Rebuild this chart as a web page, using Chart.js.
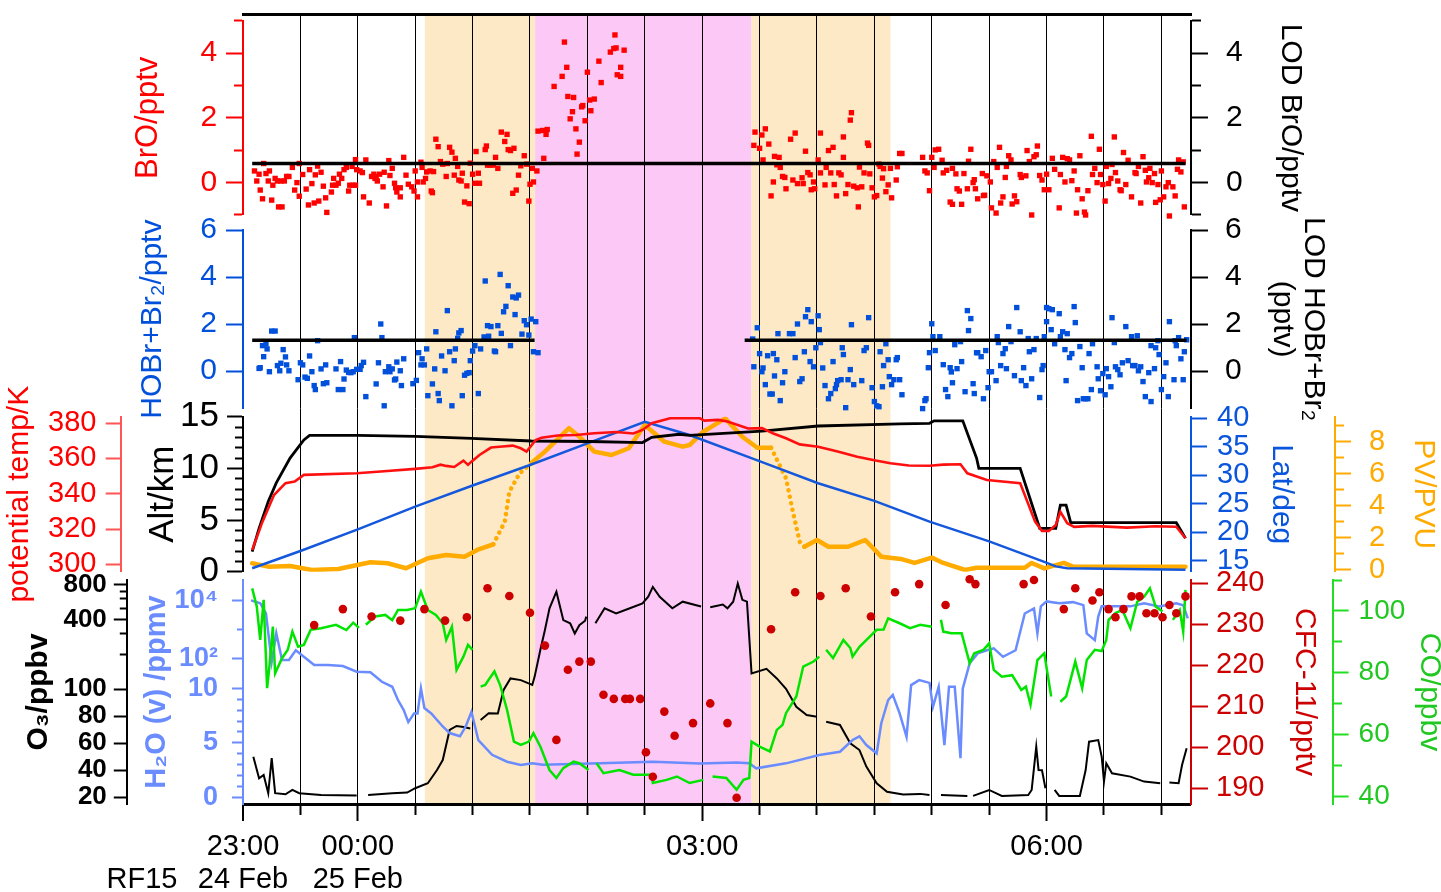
<!DOCTYPE html>
<html lang="en">
<head>
<meta charset="utf-8">
<title>RF15 bromine, ozone and tracer time series</title>
<script src="https://cdn.jsdelivr.net/npm/chart.js@4.4.1/dist/chart.umd.min.js"></script>
<style>
  body { margin: 0; background: #fff; }
  #stack { position: relative; width: 1441px; height: 892px; }
  #stack canvas { position: absolute; left: 0; top: 0; }
</style>
</head>
<body>
<div id="stack">
  <canvas id="frame" width="1441" height="892"></canvas>
  <canvas id="bro" width="1441" height="892"></canvas>
  <canvas id="hobr" width="1441" height="892"></canvas>
  <canvas id="met" width="1441" height="892"></canvas>
  <canvas id="tracers" width="1441" height="892"></canvas>
</div>
<script>
// time is in hours after 23:00 UTC, 24 Feb
const T_END = 8.258;

// flight legs shaded behind all panels
const legStart = [1.584, 2.545, 4.43];
const legEnd = [2.545, 4.43, 5.64];
const legFill = ['#fde9c6', '#fcc8f5', '#fde9c6'];

const timeTicks = [0, 0.5, 1, 1.5, 2, 2.5, 3, 3.5, 4, 4.5, 5, 5.5, 6, 6.5, 7, 7.5, 8];
const clockHours = [0, 1, 4, 7];
const clockText = ['23:00', '00:00', '03:00', '06:00'];
const dateText = ['24 Feb', '25 Feb', '', ''];

// axis ticks
const broTicks = [-1, 0, 1, 2, 3, 4, 5];
const broLabelled = [0, 2, 4];
const hobrTicks = [0, 2, 4, 6];
const thetaTicks = [300, 320, 340, 360, 380];
const altTicks = [0, 1, 2, 3, 4, 5, 6, 7, 8, 9, 10, 11, 12, 13, 14, 15];
const altLabelled = [0, 5, 10, 15];
const latTicks = [15, 20, 25, 30, 35, 40];
const pvTicks = [0, 1, 2, 3, 4, 5, 6, 7, 8, 9];
const pvLabelled = [0, 2, 4, 6, 8];
const o3Ticks = [20, 40, 60, 80, 100, 200, 300, 400, 500, 600, 700, 800];
const o3Labelled = [20, 40, 60, 80, 100, 400, 800];
const h2oTicks = [0, 1, 2, 3, 4, 5, 6, 7, 8, 9, 10, 100, 1000, 10000];
const h2oLabelled = [0, 5, 10, 100, 10000];
const h2oText = ['0', '5', '10', '10\u00b2', '10\u2074'];
const cfcTicks = [190, 200, 210, 220, 230, 240];
const coTicks = [40, 50, 60, 70, 80, 90, 100, 110];
const coLabelled = [40, 60, 80, 100];

// BrO (pptv)
const broTime = [
  0.10,0.12,0.14,0.15,0.17,0.18,0.20,0.22,0.23,0.25,
  0.26,0.28,0.30,0.31,0.34,0.33,0.36,0.38,0.40,0.43,
  0.45,0.47,0.49,0.49,0.52,0.55,0.57,0.58,0.60,0.62,
  0.63,0.65,0.66,0.68,0.70,0.72,0.73,0.77,0.78,0.79,
  0.81,0.83,0.84,0.86,0.88,0.90,0.92,0.93,0.95,0.96,
  0.98,0.98,0.99,1.02,1.04,1.05,1.07,1.10,1.12,1.14,
  1.15,1.16,1.17,1.19,1.22,1.23,1.25,1.27,1.28,1.30,
  1.32,1.33,1.34,1.37,1.37,1.40,1.42,1.44,1.47,1.49,
  1.50,1.52,1.52,1.55,1.56,1.57,1.59,1.60,1.63,1.64,
  1.65,1.66,1.68,1.70,1.72,1.74,1.77,1.78,1.80,1.82,
  1.84,1.85,1.87,1.88,1.90,1.91,1.93,1.95,1.97,1.98,
  2.00,2.02,2.03,2.05,2.06,2.11,2.12,2.13,2.15,2.18,
  2.20,2.22,2.25,2.28,2.30,2.31,2.33,2.35,2.36,2.38,
  2.40,2.42,2.45,2.47,2.49,2.50,2.52,2.53,2.56,2.57,
  2.61,2.62,2.64,2.65,2.71,
  2.78,2.80,2.82,2.83,2.85,2.87,2.88,2.90,2.91,2.93,
  2.95,2.96,2.98,3.00,3.02,3.03,3.06,3.10,3.12,3.20,
  3.23,3.24,3.25,3.26,3.29,3.29,3.32,
  4.45,4.46,4.50,4.52,4.53,4.55,4.58,4.60,4.62,4.63,
  4.65,4.67,4.68,4.70,4.72,4.73,4.77,4.79,4.81,4.83,
  4.87,4.88,4.90,4.92,4.94,4.95,4.97,4.98,5.01,5.03,
  5.03,5.07,5.08,5.10,5.12,5.14,5.15,5.17,5.19,5.21,
  5.23,5.23,5.25,5.27,5.29,5.30,5.32,5.35,5.36,5.37,
  5.39,5.41,5.44,5.45,5.46,5.48,5.50,5.52,5.54,5.55,
  5.57,5.58,5.60,5.62,5.64,5.65,5.69,5.70,5.72,5.74,
  5.92,5.94,5.96,5.98,6.00,6.02,6.03,6.06,6.09,6.10,
  6.13,6.16,6.18,6.18,6.21,6.22,6.24,6.26,6.28,6.31,
  6.32,6.34,6.36,6.37,6.38,6.40,6.44,6.45,6.46,6.48,
  6.51,6.52,6.54,6.56,6.57,6.59,6.60,6.62,6.64,6.65,
  6.67,6.69,6.70,6.72,6.74,6.77,6.78,6.82,6.83,6.85,
  6.87,6.89,6.91,6.92,6.94,6.96,6.98,7.00,7.02,7.05,
  7.07,7.11,7.12,7.14,7.16,7.18,7.20,7.22,7.24,7.26,
  7.27,7.29,7.31,7.33,7.34,7.36,7.39,7.40,7.42,7.44,
  7.46,7.47,7.49,7.51,7.52,7.54,7.56,7.57,7.59,7.60,
  7.62,7.64,7.65,7.67,7.69,7.71,7.74,7.77,7.78,7.80,
  7.82,7.84,7.86,7.87,7.89,7.90,7.92,7.94,7.95,7.97,
  7.99,8.00,8.02,8.04,8.06,8.07,8.10,8.12,8.14,8.15,
  8.17,8.19,8.20
];
const broVal = [
  0.36,0.05,0.26,-0.23,-0.50,0.59,0.28,0.05,0.36,-0.54,
  -0.08,0.13,0.05,-0.75,-0.75,0.05,0.05,0.19,0.19,0.47,
  -0.23,0.00,-0.42,0.59,0.25,-0.20,-0.69,0.40,-0.03,-0.63,
  0.24,0.51,-0.57,0.32,-0.11,-0.47,-0.92,-0.29,-0.08,0.13,
  -0.08,-0.02,0.26,0.13,0.40,0.47,-0.26,-0.08,0.50,-0.08,
  -0.08,0.71,0.40,0.36,0.31,-0.44,0.70,-0.63,0.19,0.26,
  0.13,0.19,0.05,0.26,-0.13,0.32,-0.72,0.68,0.22,0.44,
  -0.02,-0.16,-0.29,-0.44,-0.16,0.78,0.23,-0.05,-0.13,-0.26,
  0.36,-0.44,0.02,0.63,0.47,0.02,0.13,0.33,0.36,-0.26,
  -0.31,0.34,1.34,1.11,0.65,0.57,0.19,0.59,1.09,0.94,
  0.23,0.75,0.50,0.08,0.05,0.29,-0.60,-0.10,-0.65,0.60,
  0.26,-0.02,0.96,0.29,-0.02,1.02,1.13,0.54,0.54,0.54,
  0.78,0.44,1.56,1.27,1.49,1.02,0.99,-0.33,1.06,-0.23,
  0.23,0.52,0.83,0.57,-0.57,-0.05,0.44,0.02,0.36,1.59,
  1.61,0.75,1.49,1.64,2.97,
  3.28,4.34,3.56,2.66,1.97,2.19,2.63,1.66,0.88,1.25,
  2.34,2.38,1.91,3.41,2.55,2.22,2.58,3.75,3.09,4.03,
  4.14,4.56,4.16,3.33,3.28,3.56,4.09,
  1.15,1.56,1.06,1.47,0.70,1.66,1.19,-0.41,0.02,0.81,
  0.55,0.78,0.47,0.19,0.16,-0.19,1.34,0.08,1.53,-0.03,
  0.15,-0.03,0.97,0.31,0.24,-0.22,0.02,-0.19,0.70,1.53,
  0.30,-0.07,0.47,0.99,0.30,1.09,-0.06,-0.41,0.30,0.24,
  1.41,0.78,-0.34,-0.06,1.93,2.16,-0.11,-0.16,-0.75,0.48,
  -0.13,0.30,1.22,1.15,0.27,-0.16,-0.44,-0.40,0.57,0.50,
  0.14,0.43,-0.28,-0.07,0.44,-0.47,0.08,0.49,0.90,0.90,
  0.78,0.36,0.30,-0.25,0.78,0.47,1.01,1.03,0.69,0.30,
  0.38,-0.60,-0.67,0.44,0.27,-0.19,-0.26,-0.67,0.28,-0.19,
  0.66,1.03,0.00,0.09,-0.19,-0.50,0.28,-0.40,-0.39,0.21,
  0.02,-0.78,0.65,-0.94,0.47,1.09,-0.63,-0.44,0.16,0.50,
  0.83,0.70,-0.66,-0.41,-0.59,0.25,0.16,0.21,0.99,0.65,
  -1.00,0.80,0.86,1.13,0.22,0.08,-0.22,0.26,-0.22,0.75,
  0.41,-0.78,0.25,0.78,0.02,0.74,0.70,0.06,0.36,-0.94,
  -0.22,0.83,-0.50,-0.91,-1.00,-0.25,1.43,0.25,0.44,0.00,
  1.03,0.25,-0.06,-0.57,0.50,-0.03,0.13,0.56,1.41,0.31,
  0.05,-0.22,-0.25,0.93,-0.06,0.69,-0.44,0.31,0.28,0.50,
  -0.63,0.80,0.38,0.02,0.15,0.44,0.00,0.28,-0.61,-0.06,
  -0.53,0.36,-0.44,-0.13,0.00,-1.03,-0.13,-0.41,0.41,0.70,
  0.33,0.64,-0.75
];
const lodBroTime = [0.08, 8.21];
const lodBroVal = [0.59, 0.59];

// HOBr + Br2 (pptv)
const hobrTime = [
  0.14,0.15,0.17,0.18,0.20,0.21,0.23,0.25,0.28,0.30,
  0.32,0.33,0.35,0.37,0.38,0.40,0.48,0.50,0.52,0.54,
  0.56,0.58,0.60,0.62,0.63,0.65,0.68,0.70,0.72,0.73,
  0.81,0.83,0.85,0.87,0.88,0.90,0.92,0.94,0.96,0.97,
  0.99,1.02,1.03,1.05,1.07,1.16,1.18,1.20,1.21,1.23,
  1.24,1.27,1.28,1.30,1.32,1.33,1.34,1.37,1.38,1.40,
  1.48,1.51,1.53,1.55,1.56,1.58,1.60,1.61,1.65,1.67,
  1.68,1.70,1.71,1.73,1.76,1.78,1.80,1.82,1.84,1.85,
  1.87,1.88,1.90,1.91,1.93,1.95,1.97,1.98,2.00,2.02,
  2.05,2.07,2.10,2.11,2.13,2.14,2.16,2.19,2.20,2.22,
  2.24,2.25,2.27,2.29,2.31,2.33,2.35,2.37,2.38,2.40,
  2.43,2.45,2.47,2.49,2.51,2.53,2.55,2.57,
  4.44,4.45,4.48,4.50,4.52,4.53,4.55,4.57,4.59,4.61,
  4.62,4.63,4.65,4.66,4.68,4.70,4.72,4.76,4.79,4.81,
  4.83,4.85,4.87,4.89,4.90,4.92,4.94,4.95,4.97,4.99,
  5.01,5.02,5.03,5.05,5.07,5.10,5.12,5.14,5.16,5.17,
  5.18,5.21,5.22,5.23,5.25,5.27,5.29,5.30,5.32,5.39,
  5.41,5.43,5.45,5.48,5.50,5.52,5.54,5.55,5.57,5.58,
  5.60,5.62,5.63,5.65,5.67,5.69,5.70,5.72,5.74,5.92,
  5.94,5.95,5.97,5.98,6.00,6.01,6.03,6.07,6.10,6.12,
  6.14,6.16,6.17,6.18,6.20,6.22,6.25,6.26,6.29,6.31,
  6.32,6.34,6.36,6.37,6.39,6.40,6.43,6.45,6.47,6.49,
  6.50,6.52,6.56,6.57,6.58,6.60,6.62,6.64,6.65,6.67,
  6.69,6.72,6.74,6.77,6.78,6.80,6.82,6.84,6.85,6.87,
  6.89,6.91,6.94,6.96,6.97,6.98,7.00,7.00,7.02,7.04,
  7.05,7.07,7.11,7.12,7.14,7.16,7.17,7.18,7.20,7.22,
  7.24,7.25,7.27,7.29,7.31,7.32,7.34,7.36,7.37,7.39,
  7.40,7.44,7.45,7.47,7.49,7.51,7.52,7.54,7.56,7.57,
  7.59,7.60,7.62,7.64,7.66,7.69,7.71,7.74,7.75,7.77,
  7.79,7.80,7.82,7.84,7.86,7.89,7.91,7.91,7.94,7.95,
  7.97,7.98,8.00,8.02,8.04,8.06,8.07,8.11,8.12,8.13,
  8.15,8.17,8.19,8.20,8.22
];
const hobrVal = [
  0.11,0.14,1.08,0.61,1.15,0.94,-0.03,1.70,1.70,0.23,
  0.01,0.33,0.91,0.60,0.26,0.01,-0.37,0.35,0.26,-0.26,
  -0.31,0.64,-0.03,-0.62,-0.79,1.29,0.09,-0.54,0.26,-0.50,
  0.09,-0.79,0.40,-0.79,-0.34,0.04,-0.06,-0.07,-0.03,1.42,
  0.07,0.07,0.23,0.37,-1.09,-0.55,0.35,2.00,1.42,-1.48,
  -0.03,0.18,-0.03,0.09,-0.38,-0.34,0.38,0.01,-0.62,0.52,
  -0.54,-0.40,0.78,0.26,0.52,0.26,0.94,-1.05,-0.55,0.09,
  1.67,-0.96,-1.26,0.64,0.01,2.57,0.82,-1.48,0.44,0.94,
  1.39,1.62,1.72,-1.05,-0.18,-0.10,-0.07,0.44,0.85,1.08,
  -0.96,0.94,1.45,3.83,1.93,1.48,1.89,0.85,0.82,1.93,
  4.11,1.60,2.52,2.75,3.63,1.08,3.15,2.40,3.11,3.23,
  1.57,2.14,1.97,1.53,2.21,0.82,2.10,0.78,
  1.36,0.18,1.84,0.74,-0.03,0.13,-0.58,0.65,-0.98,-0.98,
  0.74,-0.21,0.48,1.59,-1.26,-0.50,-0.03,1.59,1.59,0.57,
  2.00,-0.45,-0.33,0.82,2.31,2.61,0.40,2.10,0.18,0.99,
  2.35,1.76,1.21,0.13,-0.62,-1.18,-0.96,0.40,-0.75,-0.58,
  -0.41,-0.37,0.99,0.70,-1.56,-0.37,0.06,1.97,-0.58,-0.41,
  0.87,0.99,2.27,-0.71,-1.30,-1.48,-1.52,0.82,-0.67,0.23,
  1.16,0.48,-0.24,-0.58,-0.37,0.48,0.57,-0.37,-1.01,-1.60,
  -1.26,-1.18,0.14,0.78,2.01,1.46,0.87,1.46,0.27,-0.79,
  -1.09,0.14,-0.04,-0.50,1.12,0.10,1.25,0.40,-0.88,2.57,
  1.72,2.23,-0.54,-0.96,0.78,0.78,0.61,-1.18,0.87,-0.71,
  -0.03,-0.03,-0.41,1.46,1.21,0.23,0.74,0.95,0.10,1.89,
  1.25,-0.20,2.70,1.67,-0.41,0.14,-0.62,1.38,0.82,-0.33,
  0.91,1.38,-1.13,0.06,0.23,1.46,2.10,2.70,2.65,1.76,
  2.61,1.16,2.44,1.46,1.67,0.91,-0.41,1.59,0.57,0.74,
  2.74,2.06,-1.26,1.04,0.14,-1.18,-1.18,-1.18,0.74,-0.79,
  1.16,0.18,-0.33,-0.84,-0.11,-1.01,0.10,-0.24,-0.67,2.27,
  1.21,0.18,0.06,-0.16,0.35,1.89,0.44,1.46,0.23,0.23,
  1.50,0.01,0.18,-0.45,-1.09,-0.07,-1.30,1.08,0.10,0.99,
  1.29,0.70,-0.79,-0.24,0.35,-1.09,2.10,-0.37,1.29,1.08,
  1.42,0.52,-0.37,0.82,1.33
];
const lodHobrTime = [0.08, 2.54, 3.5, 4.37, 8.22];
const lodHobrVal = [1.31, 1.31, null, 1.31, 1.31];

// aircraft state
const altTime = [0.08,0.14,0.22,0.29,0.41,0.53,0.58,1.00,1.50,1.99,2.51,3.02,3.48,3.56,3.80,3.89,4.52,5.01,5.72,5.98,6.02,6.27,6.39,6.41,6.77,6.94,7.08,7.12,7.17,7.21,8.13,8.21];
const altKm = [1.94,4.2,6.8,8.6,11.0,12.75,13.2,13.2,13.1,12.9,12.65,12.6,12.5,13.0,13.3,13.2,13.6,14.1,14.3,14.36,14.6,14.6,11.0,10.0,10.0,4.2,4.2,6.45,6.45,4.74,4.74,3.23];
const thetaTime = [0.08,0.17,0.27,0.37,0.45,0.53,0.99,1.20,1.50,1.65,
  1.72,1.77,1.84,1.92,1.96,1.99,2.06,2.16,2.26,2.35,
  2.42,2.47,2.55,2.60,2.74,2.90,3.06,3.25,3.40,3.48,
  3.56,3.72,3.98,4.02,4.14,4.22,4.31,4.40,4.52,4.62,
  4.73,4.85,5.01,5.18,5.35,5.50,5.64,5.80,5.98,6.10,
  6.25,6.31,6.48,6.77,6.90,6.96,7.02,7.08,7.12,7.18,
  7.24,7.40,7.70,7.95,8.13,8.21];
const thetaK = [308.1,324.2,339.3,346.0,346.9,350.7,351.6,352.6,354.1,355.0,
  356.5,355.8,355.2,358.8,356.4,358.2,362.0,366.2,366.8,367.3,
  365.8,363.9,370.5,371.8,373.0,373.3,374.3,375.0,374.2,376.2,
  380.0,382.8,382.8,381.5,381.9,381.0,379.0,377.0,377.2,374.2,
  371.5,368.0,366.7,364.0,361.0,359.0,357.3,356.0,355.9,356.5,
  356.7,351.6,347.8,346.0,324.2,318.9,318.9,322.3,329.8,323.3,
  321.2,321.8,320.8,321.6,321.3,314.8];
const latTime = [0.08,0.50,1.00,1.50,2.00,2.50,3.00,3.50,3.89,4.51,5.01,5.50,5.98,6.50,6.98,7.08,7.18,8.21];
const latDeg = [13.67,16.7,20.5,24.5,28.2,31.8,35.6,39.4,37.07,32.4,28.6,25.5,21.85,18.4,14.8,14.0,13.67,13.4];
const pvTime = [0.08,0.22,0.41,0.60,0.83,1.11,1.26,1.42,1.61,1.77,1.93,2.04,2.18,2.28,2.32,2.41,2.51,2.63,2.84,2.93,3.06,3.21,3.36,3.50,3.67,3.83,3.89,4.01,4.20,4.35,4.48,4.60,4.73,4.79,4.85,4.89,5.00,5.10,5.27,5.42,5.56,5.73,5.85,6.00,6.10,6.29,6.39,6.81,6.87,6.98,7.15,7.23,8.21];
const pvVal = [0.42,0.21,0.25,0.0,0.06,0.48,0.42,0.11,0.73,0.94,0.83,1.25,1.6,3.0,4.88,6.03,6.65,7.38,8.84,8.31,7.38,7.17,7.59,9.04,8.0,7.69,7.79,8.62,9.45,8.31,7.62,7.62,5.72,3.63,1.76,1.45,1.87,1.45,1.45,1.87,0.83,0.69,0.44,0.77,0.44,0.0,0.14,0.14,0.44,0.1,0.44,0.21,0.21];
// stretches of PV that are interpolated between model outputs (drawn dotted)
const pvDotFrom = [2.18, 4.60];
const pvDotTo = [2.51, 4.89];

// trace gases
const o3Time = [0.09,0.14,0.18,0.22,0.25,0.28,0.37,0.43,0.49,0.68,
  0.99,1.03,1.09,1.30,1.43,1.50,1.61,1.69,1.74,1.80,
  1.86,1.92,1.98,2.02,2.07,2.14,2.22,2.27,2.33,2.42,
  2.52,2.54,2.59,2.63,2.67,2.73,2.79,2.85,2.89,2.93,
  2.98,2.99,3.03,3.07,3.15,3.25,3.37,3.48,3.53,3.57,
  3.63,3.74,3.83,3.99,4.03,4.07,4.18,4.22,4.27,4.31,
  4.35,4.39,4.43,4.56,4.65,4.73,4.82,4.91,5.00,5.03,
  5.08,5.20,5.29,5.37,5.43,5.52,5.61,5.75,5.90,5.98,
  6.02,6.08,6.31,6.33,6.36,6.50,6.61,6.84,6.87,6.91,
  6.93,6.96,6.99,7.03,7.07,7.11,7.29,7.34,7.37,7.45,
  7.48,7.50,7.52,7.57,7.73,7.85,7.99,8.03,8.07,8.15,
  8.18,8.22];
const o3Val = [50,34,36.5,23,49,23,22.2,25.4,23,21.7,
  21.3,null,21.7,23,23.5,26.7,30.4,40.2,47.6,69.9,
  72.8,72,71,null,77.3,82.2,82,99.5,124,120,
  109,128,218,324,499,694,395,371,303,357,
  390,423,null,371,499,451,499,550,627,763,
  627,499,569,517,null,510,537,499,569,815,
  590,569,137,150,124,101,87,81,79.7,null,
  76,73.6,60,55,42.7,30.4,24.1,22,22.5,21.7,
  null,21.7,21,null,21,25.4,21,21.7,25.4,57.5,
  40.2,40,26.7,null,25.4,21,21,40,61.2,62.4,
  50,31.6,45.2,37.8,35.3,31.6,30.4,null,31,30.4,
  43.9,56.3];
const h2oTime = [0.07,0.15,0.20,0.25,0.29,0.34,0.40,0.46,0.53,0.62,
  0.74,0.87,0.99,1.11,1.21,1.30,1.35,1.40,1.44,1.49,
  1.52,1.55,1.58,1.64,1.74,1.80,1.89,1.94,1.99,2.05,
  2.17,2.30,2.42,2.52,2.61,3.11,3.57,3.98,4.30,4.41,
  4.47,4.73,5.02,5.20,5.31,5.37,5.43,5.52,5.56,5.62,
  5.66,5.72,5.78,5.82,5.89,5.98,6.01,6.06,6.11,6.15,
  6.20,6.25,6.27,6.33,6.40,6.48,6.54,6.62,6.73,6.81,
  6.89,6.92,6.95,7.00,7.11,7.23,7.32,7.35,7.42,7.45,
  7.48,7.73,7.85,7.98,8.13,8.19,8.23];
const h2oVal = [9770,7800,3500,80,740,92,92,197,118,62,
  62,57,36.6,35,16.7,11.3,8.93,8.0,6.9,7.7,
  7.7,10,8.2,7.7,6.5,5.9,5.6,6.5,7.85,5.26,
  3.9,3.27,2.96,3.12,3.0,3.12,3.27,3.1,3.2,3.12,
  2.66,3.12,3.88,4.18,5.26,5.6,4.8,4.04,6.8,8.93,
  9.4,7.7,5.56,12.9,19,15.3,8.3,11.3,4.8,11.3,
  11.3,3.6,10,71,154,197,229,118,197,3500,
  5200,740,6100,9000,7800,8500,6700,740,436,2740,
  6100,6100,7800,6100,7800,6700,2400];
const coTime = [0.08,0.12,0.15,0.18,0.21,0.23,0.26,0.28,0.34,0.39,
  0.43,0.48,0.53,0.59,0.68,0.81,0.90,0.96,1.01,1.04,
  1.07,1.15,1.24,1.30,1.35,1.43,1.50,1.55,1.61,1.68,
  1.74,1.77,1.82,1.86,1.92,1.96,2.00,2.04,2.07,2.11,
  2.14,2.19,2.24,2.30,2.36,2.42,2.49,2.53,2.59,2.67,
  2.73,2.79,2.88,2.93,3.01,3.04,3.08,3.14,3.28,3.40,
  3.56,3.57,3.69,3.78,3.89,4.01,4.04,4.09,4.21,4.30,
  4.36,4.41,4.43,4.50,4.59,4.65,4.70,4.73,4.82,4.88,
  4.97,5.02,5.06,5.08,5.14,5.23,5.29,5.31,5.37,5.46,
  5.52,5.58,5.62,5.72,5.81,5.90,6.00,6.03,6.08,6.10,
  6.17,6.26,6.33,6.37,6.45,6.50,6.54,6.61,6.70,6.78,
  6.82,6.86,6.92,6.98,7.04,7.08,7.12,7.17,7.25,7.31,
  7.35,7.42,7.48,7.52,7.54,7.60,7.66,7.73,7.79,7.85,
  7.90,7.95,8.01,8.04,8.10,8.16,8.19,8.21];
const coVal = [107.3,101.4,90.6,103.6,75,82,94.9,79.8,84.7,87.4,
  93.3,88.4,89,93.9,94.4,95.5,93.8,96.2,94.5,null,
  95.5,98.2,98.7,97,100.3,100.3,100.9,106.2,100.3,98.7,
  96,90.6,94.9,80.9,85.2,89,87.4,null,75.5,76,
  77.7,80.4,76,68,57.7,56.6,57.7,60.4,56.1,48.5,
  45.9,49.1,51.2,50.7,48.5,null,50.7,47.5,48.5,47,
  47,44.3,45.3,46.4,44.3,45.3,null,46.4,45.9,42.1,
  45.3,45.9,57.7,56.1,54.5,61.5,63.1,66.9,72.3,82,
  83.6,85.2,null,87.4,84.7,90.6,88,85.2,88.4,91.7,
  93.9,94,97.6,96,94.4,95.5,94.9,null,97.1,93.3,
  92.8,92.8,83.1,86.3,87.4,89.5,80.9,78.7,79.2,74.4,
  75.5,69.6,84.1,86.3,72.3,null,70.6,72.3,83.6,75,
  84.1,87.4,87,90.6,97.1,99.3,100.3,94.4,103,104.6,
  107.3,101.4,99.8,null,97.1,100.3,93.3,106.8];
const cfcTime = [0.62,0.87,1.12,1.37,1.58,1.76,1.95,2.13,2.32,2.50,
  2.63,2.73,2.83,2.93,3.03,3.14,3.23,3.33,3.37,3.46,
  3.51,3.57,3.67,3.76,3.92,4.07,4.22,4.30,4.60,4.81,
  5.03,5.25,5.47,5.68,5.89,6.12,6.33,6.38,6.80,6.89,
  7.15,7.25,7.40,7.46,7.54,7.60,7.67,7.74,7.81,7.87,
  7.94,8.01,8.07,8.13,8.21];
const cfcVal = [229.8,233.7,231.9,230.9,233.7,230.9,231.7,238.8,236.9,232.8,
  224.8,201.8,218.9,220.9,220.9,212.8,211.8,211.8,211.8,211.8,
  198.8,192.8,208.7,202.8,205.9,210.7,205.9,187.7,228.8,237.8,
  236.9,238.8,231.9,237.8,239.8,234.7,241,239.8,239.8,240.8,
  233.7,238.8,235.8,237.8,233.7,231.7,233.7,236.8,236.8,232.7,
  232.7,231.7,234.7,232.7,236.8];

const FONT = "'Liberation Sans', Arial, Helvetica, sans-serif";
Chart.defaults.font.family = FONT;

// linear below breakAt, logarithmic above it (used for O3 and H2O)
class BrokenLogScale extends Chart.LinearScale {
  static id = 'brokenLog';
  static defaults = Chart.LinearScale.defaults;

  linearise(v) {
    const b = this.options.breakAt;
    const k = this.options.unitsPerDecade;
    return v <= b ? v : b + k * Math.log10(v / b);
  }

  getPixelForValue(v) {
    if (v === null || v === undefined) return NaN;
    return super.getPixelForValue(this.linearise(v));
  }
}
Chart.register(BrokenLogScale);

function series(t, v) {
  return t.map((x, i) => ({ x: x, y: v[i] }));
}

// one y axis with a fixed box width so every panel shares the same plot edges
function axis(o) {
  const labelled = o.labelled || o.ticks;
  const minor = o.minorLen || 0;
  const left = o.side === 'left';
  return {
    type: o.type || 'linear',
    position: o.side,
    weight: o.outer ? 1 : 0,
    min: o.min,
    max: o.max,
    breakAt: o.breakAt,
    unitsPerDecade: o.perDecade,
    border: { display: true, color: o.lineColor || o.color, width: 2 },
    grid: {
      display: true,
      drawOnChartArea: false,
      drawTicks: true,
      tickLength: o.tickLen,
      tickWidth: 2,
      tickColor: o.lineColor || o.color,
      tickBorderDash: c => (c.tick && labelled.indexOf(c.tick.value) < 0)
        ? (left ? [0, o.tickLen - minor, minor, 300] : [minor, 300])
        : []
    },
    ticks: {
      autoSkip: false,
      padding: o.pad,
      color: o.color,
      font: { family: FONT, size: o.size, weight: o.bold ? 'bold' : 'normal' },
      callback: v => {
        const i = labelled.indexOf(v);
        if (i < 0) return '';
        return o.text ? o.text[i] : String(v);
      }
    },
    afterBuildTicks: s => { s.ticks = o.ticks.map(v => ({ value: v })); },
    afterFit: s => {
      // keep the panel edges where the layout padding puts them
      s.width = o.width;
      s.paddingTop = 0;
      s.paddingBottom = 0;
    },
    title: {
      display: true,
      text: o.title,
      color: o.color,
      font: { family: FONT, size: o.titleSize, weight: o.bold ? 'bold' : 'normal', lineHeight: o.titleLH || 1.2 },
      padding: { top: o.titlePad, bottom: 0 }
    }
  };
}

function panel(id, top, bottom, scales, datasets) {
  return new Chart(document.getElementById(id), {
    type: 'line',
    data: { datasets: datasets },
    options: {
      responsive: false,
      animation: false,
      events: [],
      layout: { padding: { top: top, bottom: 892 - bottom, left: 0, right: 0 } },
      plugins: { legend: { display: false }, tooltip: { enabled: false } },
      scales: Object.assign({ x: { type: 'linear', min: 0, max: T_END, display: false } }, scales)
    }
  });
}

// shaded flight legs and the flight label
const flightLegs = {
  id: 'flightLegs',
  beforeDraw(chart) {
    const { ctx, chartArea, scales } = chart;
    ctx.save();
    legStart.forEach((t, i) => {
      const x0 = scales.x.getPixelForValue(t);
      const x1 = scales.x.getPixelForValue(legEnd[i]);
      ctx.fillStyle = legFill[i];
      ctx.fillRect(x0, chartArea.top, x1 - x0, chartArea.bottom - chartArea.top);
    });
    ctx.restore();
  },
  afterDraw(chart) {
    const { ctx, chartArea } = chart;
    ctx.save();
    ctx.font = '29px ' + FONT;
    ctx.fillStyle = '#000';
    ctx.textAlign = 'center';
    ctx.textBaseline = 'middle';
    ctx.fillText('RF15', chartArea.left - 101, 880);
    ctx.restore();
  }
};

// shared time axis, grid and frame
new Chart(document.getElementById('frame'), {
  type: 'line',
  data: { datasets: [] },
  options: {
    responsive: false,
    animation: false,
    events: [],
    layout: { padding: { left: 243, right: 250, top: 14, bottom: 0 } },
    plugins: { legend: { display: false }, tooltip: { enabled: false } },
    scales: {
      x: {
        type: 'linear',
        position: 'bottom',
        min: 0,
        max: T_END,
        border: { display: true, color: '#000', width: 3 },
        grid: {
          color: '#000',
          lineWidth: c => (c.tick && c.tick.value > 0 ? 1 : 0),
          drawTicks: true,
          tickLength: 17,
          tickWidth: 2,
          tickColor: '#000',
          tickBorderDash: c => (c.tick && clockHours.indexOf(c.tick.value) >= 0 ? [] : [9, 300])
        },
        afterBuildTicks: s => { s.ticks = timeTicks.map(v => ({ value: v })); },
        afterFit: s => { s.height = 88; },
        ticks: {
          autoSkip: false,
          maxRotation: 0,
          padding: 9,
          color: '#000',
          font: { size: 29, lineHeight: 1.15 },
          callback: v => {
            const i = clockHours.indexOf(v);
            if (i < 0) return '';
            return dateText[i] ? [clockText[i], dateText[i]] : clockText[i];
          }
        }
      },
      xTop: {
        type: 'linear',
        axis: 'x',
        position: 'top',
        min: 0,
        max: T_END,
        grid: { display: false },
        ticks: { display: false },
        border: { display: true, color: '#000', width: 3 },
        afterFit: s => { s.height = 0; }
      },
      y: { display: false, min: 0, max: 1 }
    }
  },
  plugins: [flightLegs]
});

// BrO
panel('bro', 20.7, 215, {
  bro: axis({ side: 'left', width: 243, min: -1, max: 5, ticks: broTicks, labelled: broLabelled,
    tickLen: 17, minorLen: 9, pad: 8.7, size: 30, color: '#ff0000',
    title: 'BrO/pptv', titleSize: 31, titlePad: 129.4 }),
  lodBro: axis({ side: 'right', width: 250, min: -1, max: 5, ticks: broTicks, labelled: broLabelled,
    tickLen: 17, minorLen: 9, pad: 18, size: 30, color: '#000',
    title: 'LOD BrO/pptv', titleSize: 30, titlePad: 133 })
}, [
  { type: 'line', data: series(lodBroTime, lodBroVal), yAxisID: 'lodBro',
    borderColor: '#000', borderWidth: 3.5, pointRadius: 0 },
  { type: 'scatter', data: series(broTime, broVal), yAxisID: 'bro',
    pointStyle: 'rect', pointRadius: 3.8, backgroundColor: '#ff0000', borderColor: '#ff0000',
    borderWidth: 0, clip: false }
]);

// HOBr + Br2
panel('hobr', 230, 408.3, {
  hobr: axis({ side: 'left', width: 243, min: -1.587, max: 6, ticks: hobrTicks,
    tickLen: 17, pad: 9, size: 30, color: '#0050dc',
    title: 'HOBr+Br\u2082/pptv', titleSize: 30, titlePad: 135 }),
  lodHobr: axis({ side: 'right', width: 250, min: -1.587, max: 6, ticks: hobrTicks,
    tickLen: 17, pad: 17, size: 30, color: '#000',
    title: ['LOD HOBr+Br\u2082', '(pptv)'], titleSize: 30, titleLH: 1.033, titlePad: 112.5 })
}, [
  { type: 'line', data: series(lodHobrTime, lodHobrVal), yAxisID: 'lodHobr',
    borderColor: '#000', borderWidth: 3.5, pointRadius: 0 },
  { type: 'scatter', data: series(hobrTime, hobrVal), yAxisID: 'hobr',
    pointStyle: 'rect', pointRadius: 3.8, backgroundColor: '#0050dc', borderColor: '#0050dc',
    borderWidth: 0, clip: false }
]);

function pvDotted(c) {
  const a = c.p0.parsed.x, b = c.p1.parsed.x;
  return pvDotFrom.some((t, i) => a >= t && b <= pvDotTo[i]);
}

// altitude, potential temperature, latitude, PV
panel('met', 416.7, 571.7, {
  theta: axis({ side: 'left', outer: true, width: 121.4, min: 295.8, max: 383.7, ticks: thetaTicks,
    tickLen: 15.7, pad: 9.3, size: 29, color: '#ff0000', lineColor: '#ff5555',
    title: 'potential temp/K', titleSize: 30, titlePad: 2 }),
  alt: axis({ side: 'left', width: 121.6, min: 0, max: 15, ticks: altTicks, labelled: altLabelled,
    tickLen: 16, minorLen: 8, pad: 8, size: 35, color: '#000',
    title: 'Alt/km', titleSize: 35, titlePad: 20.6 }),
  lat: axis({ side: 'right', width: 144, min: 13.07, max: 40.28, ticks: latTicks,
    tickLen: 16, pad: 10, size: 29, color: '#0a55dd',
    title: 'Lat/deg', titleSize: 30, titlePad: 35.5 }),
  pv: axis({ side: 'right', outer: true, width: 106, min: -0.106, max: 9.557, ticks: pvTicks, labelled: pvLabelled,
    tickLen: 16, minorLen: 8, pad: 18, size: 29, color: '#ffaa00',
    title: 'PV/PVU', titleSize: 30, titlePad: 0 })
}, [
  { data: series(thetaTime, thetaK), yAxisID: 'theta', borderColor: '#ff1010', borderWidth: 2.6, pointRadius: 0 },
  { data: series(altTime, altKm), yAxisID: 'alt', borderColor: '#000', borderWidth: 2.8, pointRadius: 0 },
  { data: series(latTime, latDeg), yAxisID: 'lat', borderColor: '#1558dc', borderWidth: 2.5, pointRadius: 0 },
  { data: series(pvTime, pvVal), yAxisID: 'pv', borderColor: '#ffab00', borderWidth: 4.5, pointRadius: 0,
    borderCapStyle: 'round', borderJoinStyle: 'round',
    segment: { borderDash: c => (pvDotted(c) ? [0.1, 6.5] : undefined) } }
]);

// O3, H2O, CFC-11, CO
panel('tracers', 580, 804, {
  o3: axis({ type: 'brokenLog', breakAt: 100, perDecade: 86, side: 'left', outer: true, width: 126.8,
    min: 15, max: 181, ticks: o3Ticks, labelled: o3Labelled,
    tickLen: 13, minorLen: 7, pad: 7, size: 26, bold: true, color: '#000',
    title: 'O\u2083/ppbv', titleSize: 30, titlePad: 21 }),
  h2o: axis({ type: 'brokenLog', breakAt: 10, perDecade: 2.7, side: 'left', width: 116.2,
    min: -0.61, max: 19.94, ticks: h2oTicks, labelled: h2oLabelled, text: h2oText,
    tickLen: 11, minorLen: 6, pad: 14, size: 27, bold: true, color: '#6a8cff',
    title: 'H\u2082O (v) /ppmv', titleSize: 29, titlePad: 12.8 }),
  cfc: axis({ side: 'right', width: 141.6, min: 186.17, max: 240.8, ticks: cfcTicks,
    tickLen: 17, pad: 8, size: 29, color: '#cc0000',
    title: 'CFC-11/pptv', titleSize: 30, titlePad: 10.6 }),
  co: axis({ side: 'right', outer: true, width: 108.4, min: 37.5, max: 110, ticks: coTicks, labelled: coLabelled,
    tickLen: 16, minorLen: 8, pad: 10, size: 28, color: '#22c822', lineColor: '#22dd22',
    title: 'CO/ppbv', titleSize: 30, titleLH: 0.8, titlePad: 0 })
}, [
  { type: 'scatter', data: series(cfcTime, cfcVal), yAxisID: 'cfc',
    pointStyle: 'circle', pointRadius: 4.3, backgroundColor: '#cc0000', borderColor: '#cc0000',
    borderWidth: 0, clip: false },
  { data: series(coTime, coVal), yAxisID: 'co', borderColor: '#00e400', borderWidth: 2.5, pointRadius: 0 },
  { data: series(h2oTime, h2oVal), yAxisID: 'h2o', borderColor: '#6a8cff', borderWidth: 2.5, pointRadius: 0 },
  { data: series(o3Time, o3Val), yAxisID: 'o3', borderColor: '#000', borderWidth: 2, pointRadius: 0 }
]);
</script>
</body>
</html>
